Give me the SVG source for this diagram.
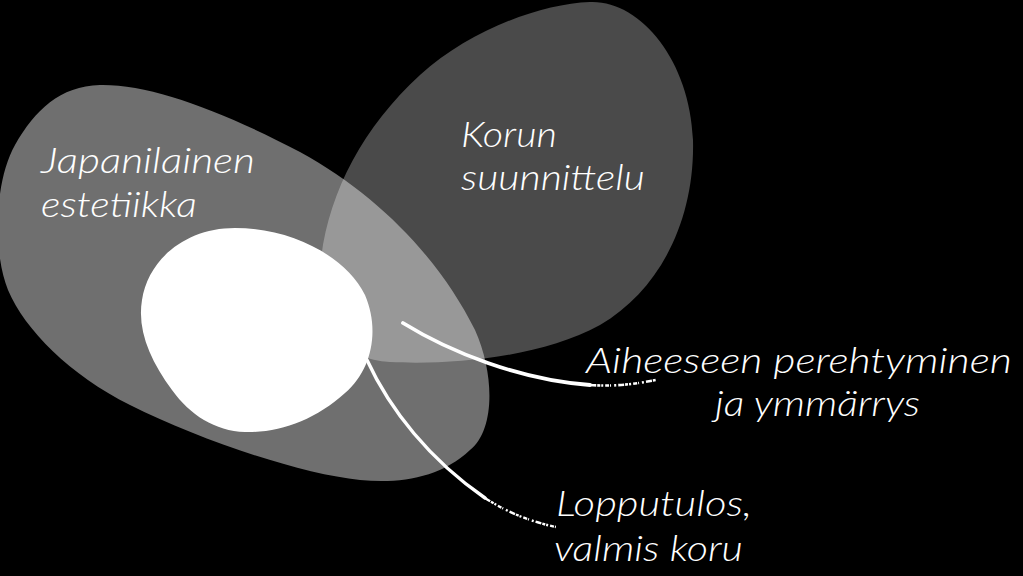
<svg xmlns="http://www.w3.org/2000/svg" width="1023" height="576" viewBox="0 0 1023 576">
<style>
.lbl{font-family:"Lato","Open Sans","Liberation Sans",sans-serif;font-style:italic;font-weight:300;font-size:36px;fill:#ffffff}
.brush{fill:none;stroke:#ffffff;stroke-linecap:round}
.dry{fill:none;stroke:#ffffff;stroke-linecap:butt;stroke-dasharray:6 1 3 1 2 2 4 1 1 3 2 2}
</style>
<rect width="1023" height="576" fill="#000000"/>
<g id="node-japanilainen">
<path d="M100,85 C150,84 220,110 300,152 C380,196 440,260 475,330 C495,375 495,430 470,450 C440,478 400,484 360,480 C300,474 200,440 130,405 C70,375 25,330 8,290 C-8,250 -5,180 15,145 C35,110 60,86 100,85 Z" fill="#ffffff" fill-opacity="0.435"/>
<text class="lbl" x="41" y="173" textLength="214" lengthAdjust="spacingAndGlyphs">Japanilainen</text>
<text class="lbl" x="41" y="217" textLength="156" lengthAdjust="spacingAndGlyphs">estetiikka</text>
</g>
<g id="node-korun">
<path d="M590,2 C640,0 690,60 693,140 C695,220 660,290 600,325 C540,358 450,365 390,362 C340,360 315,320 320,270 C325,200 360,130 420,75 C470,30 540,4 590,2 Z" fill="#ffffff" fill-opacity="0.29"/>
<text class="lbl" x="461" y="147" textLength="96" lengthAdjust="spacingAndGlyphs">Korun</text>
<text class="lbl" x="461" y="190" textLength="184" lengthAdjust="spacingAndGlyphs">suunnittelu</text>
</g>
<g id="node-core">
<path d="M235,228 C290,228 345,255 365,295 C380,330 372,370 345,393 C315,420 280,433 245,432 C215,431 190,415 172,390 C150,360 137,330 142,300 C148,260 185,228 235,228 Z" fill="#ffffff"/>
</g>
<g id="connectors">
<path class="brush" d="M403,323 C450,352 520,380 590,385" stroke-width="3.8"/>
<path class="dry" d="M590,385 C618,387 640,383 656,380" stroke-width="2.6"/>
<path class="brush" d="M367,360 C390,410 430,460 485,498" stroke-width="3.4"/>
<path class="dry" d="M485,498 C508,513 532,522 556,527" stroke-width="2.4"/>
</g>
<g id="node-aiheeseen">
<text class="lbl" x="586" y="373" textLength="426" lengthAdjust="spacingAndGlyphs">Aiheeseen perehtyminen</text>
<text class="lbl" x="715" y="416" textLength="205" lengthAdjust="spacingAndGlyphs">ja ymmärrys</text>
</g>
<g id="node-lopputulos">
<text class="lbl" x="556" y="516" textLength="196" lengthAdjust="spacingAndGlyphs">Lopputulos,</text>
<text class="lbl" x="554" y="561" textLength="189" lengthAdjust="spacingAndGlyphs">valmis koru</text>
</g>
</svg>
